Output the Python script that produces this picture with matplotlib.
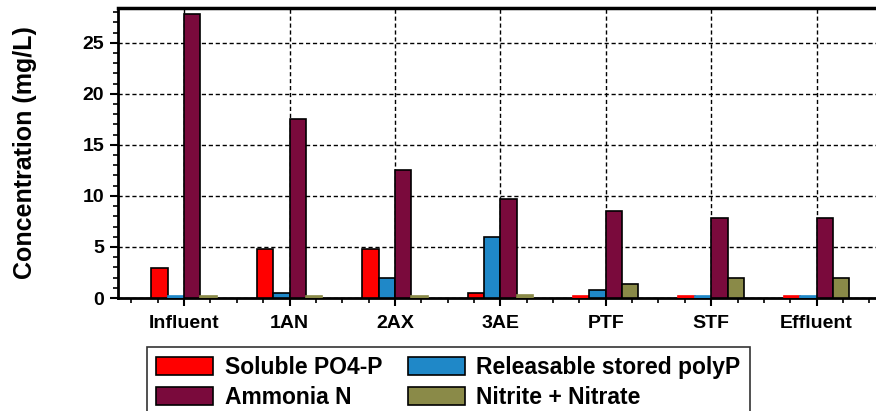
import numpy as np
import matplotlib.pyplot as plt
from matplotlib.ticker import MultipleLocator

# data
sites = ["Influent", "1AN", "2AX", "3AE", "PTF", "STF", "Effluent"]
po4 = [2.9, 4.8, 4.8, 0.45, 0.15, 0.15, 0.15]
polyp = [0.15, 0.5, 2.0, 6.0, 0.8, 0.15, 0.15]
ammonia = [27.8, 17.5, 12.55, 9.7, 8.5, 7.8, 7.8]
nox = [0.15, 0.15, 0.15, 0.3, 1.35, 2.0, 2.0]

series = [
    ("Soluble PO4-P", po4, "#ff0000"),
    ("Releasable stored polyP", polyp, "#1f88c8"),
    ("Ammonia N", ammonia, "#7a0a3c"),
    ("Nitrite + Nitrate", nox, "#8a8a48"),
]

plt.rcParams["font.family"] = ["Liberation Sans", "DejaVu Sans"]
plt.rcParams["font.weight"] = "bold"

fig = plt.figure(figsize=(8.76, 4.11), dpi=100)
ax = fig.add_axes([118 / 876, 113 / 411, 765 / 876, 290 / 411])

x = np.arange(len(sites))
w = 0.155
bars = {}
for i, (name, vals, col) in enumerate(series):
    # very short bars show up as a plain coloured strip in the original
    edges = ["black" if v > 0.3 else col for v in vals]
    bars[name] = ax.bar(x + (i - 1.5) * w, vals, w, color=col,
                        edgecolor=edges, linewidth=1.2, label=name, zorder=3)

ax.set_xlim(-0.627, 6.63)
ax.set_ylim(0, 28.4)
ax.set_xticks(x)
ax.set_xticklabels(sites, fontsize=14, fontweight="bold")
ax.xaxis.set_minor_locator(MultipleLocator(0.25))
ax.yaxis.set_major_locator(MultipleLocator(5))
ax.yaxis.set_minor_locator(MultipleLocator(1))
ax.tick_params(axis="y", labelsize=14, width=1.5, length=6, pad=4)
ax.tick_params(axis="x", width=1.5, length=6, pad=6)
ax.tick_params(which="minor", width=1.2, length=3.5)
for lab in ax.get_yticklabels():
    lab.set_fontweight("bold")

ax.grid(True, which="major", color="black", linestyle=(0, (3, 2)), linewidth=1.0, zorder=0)
ax.set_axisbelow(True)

for side in ["left", "bottom"]:
    ax.spines[side].set_linewidth(2)
ax.spines["top"].set_linewidth(2.5)
ax.spines["right"].set_linewidth(2)

ax.set_ylabel("Concentration (mg/L)", fontsize=18, fontweight="bold")
ax.yaxis.set_label_coords(-0.106, 0.5)

# legend order: row 1 = PO4, polyP ; row 2 = Ammonia, NOx
order = ["Soluble PO4-P", "Ammonia N", "Releasable stored polyP", "Nitrite + Nitrate"]
leg = fig.legend([bars[k] for k in order], order, ncol=2, loc="upper left",
                 bbox_to_anchor=(147 / 876, 1 - 347 / 411), borderaxespad=0,
                 prop={"size": 16.5, "weight": "bold"}, frameon=True, fancybox=False,
                 edgecolor="black", handlelength=2.5, handleheight=0.85,
                 handletextpad=0.5, columnspacing=1.1, labelspacing=0.3,
                 borderpad=0.4)
leg.get_frame().set_linewidth(1.2)
for h in leg.legend_handles:
    h.set_edgecolor("black")

fig.savefig("out.png", dpi=100)
